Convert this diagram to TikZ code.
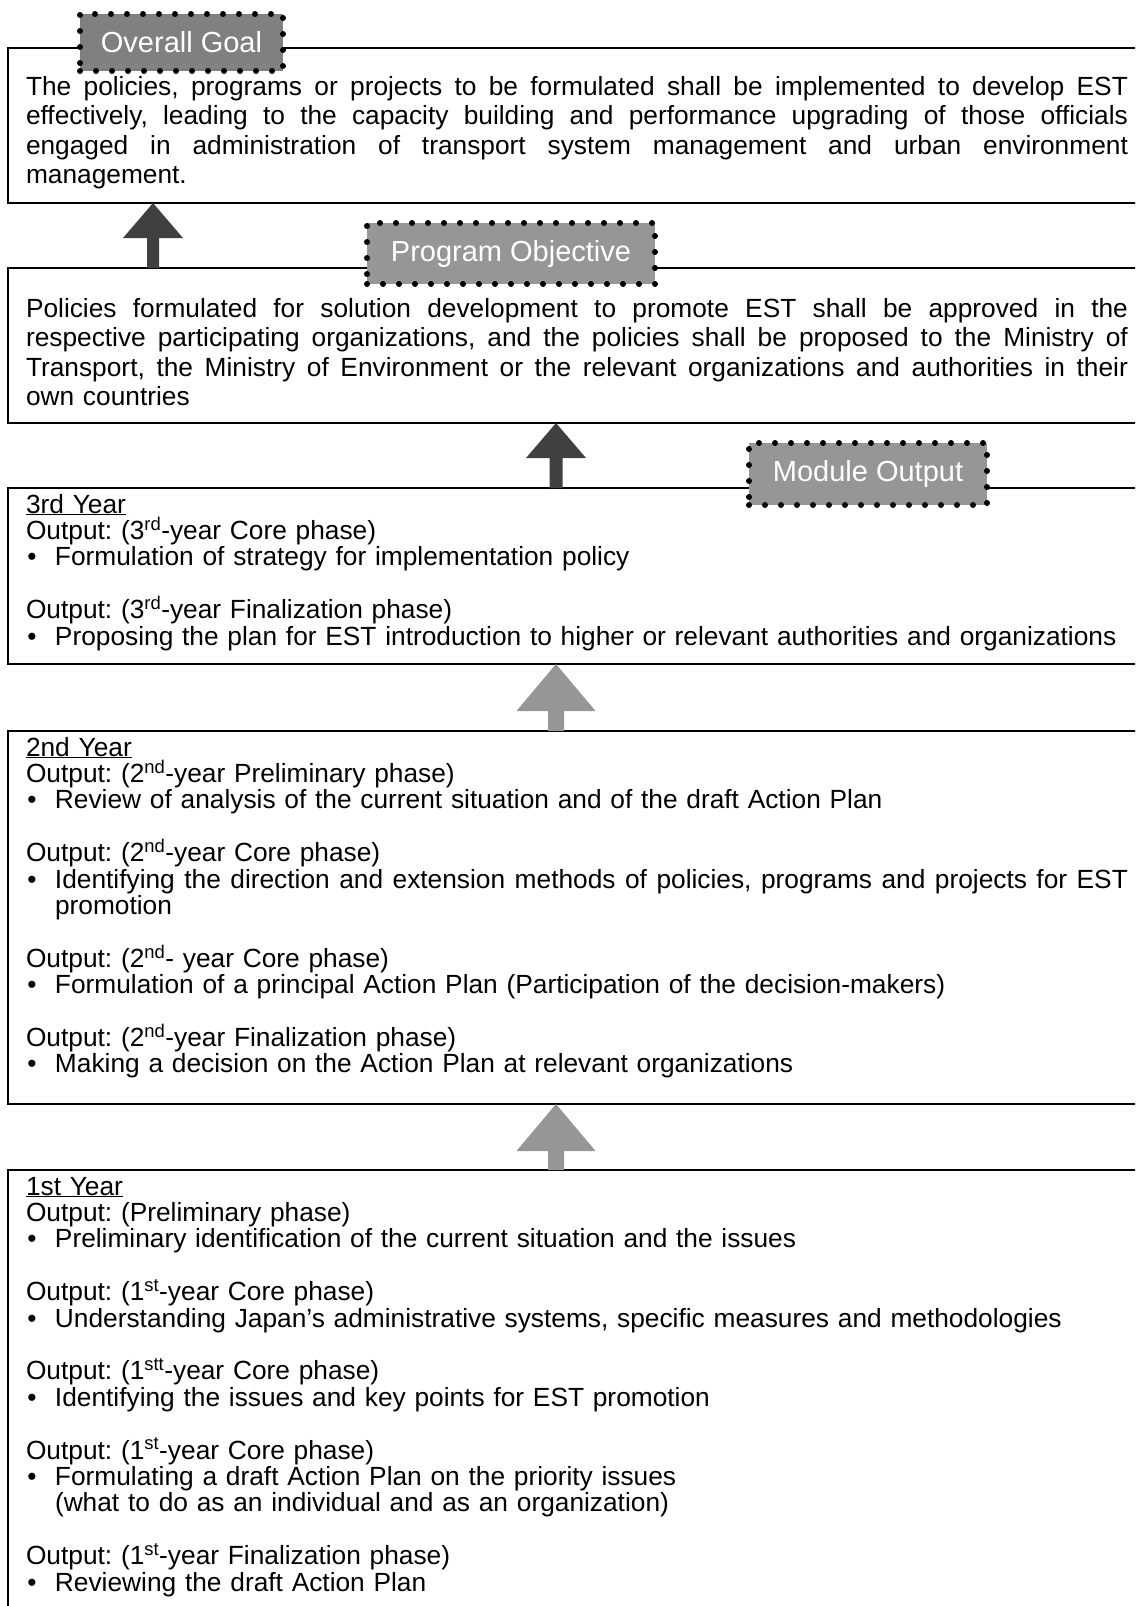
\documentclass[tikz,border=0pt]{standalone}
\usepackage{fontspec}
\setmainfont{Liberation Sans}
\usetikzlibrary{calc}

\definecolor{goalgray}{RGB}{128,128,128}
\definecolor{lblgray}{RGB}{150,150,150}
\definecolor{darkarrow}{RGB}{64,64,64}
\definecolor{lightarrow}{RGB}{150,150,150}

\newcommand{\topfont}{\fontsize{26.3pt}{29.5pt}\selectfont\frenchspacing\parindent=0pt\parskip=0pt\lineskiplimit=-100pt\relax}
\newcommand{\yearfont}{\fontsize{26.3pt}{26.4pt}\selectfont\frenchspacing\parindent=0pt\parskip=0pt\lineskiplimit=-100pt\relax}
\newcommand{\lblfont}{\fontsize{29pt}{34pt}\selectfont}
% a line stretched to a given width: every space may grow equally
\newcommand{\stretchline}[2]{\leavevmode\hbox to #1{\spaceskip=0.278em plus 1fil\relax\xspaceskip=\spaceskip #2}}
\newcommand{\jline}[1]{\stretchline{1102pt}{#1}}
\newcommand{\bul}[1]{\par\hangindent=29pt\hangafter=1\noindent\makebox[29pt][l]{\hspace{1.5pt}\textbullet}#1}
\newcommand{\gapline}{\par\noindent\mbox{}}
\newcommand{\outl}[1]{\par\noindent Output: (#1)}
% #1 colour, #2 tip, #3 base, #4 shaft half width, #5 head half width, #6 head length
\newcommand{\upblockarrow}[6]{%
  \fill[#1] ($(#3)+(-#4,0)$) -- ($(#2)+(-#4,#6)$) -- ($(#2)+(-#5,#6)$) -- (#2)
    -- ($(#2)+(#5,#6)$) -- ($(#2)+(#4,#6)$) -- ($(#3)+(#4,0)$) -- cycle;}

\begin{document}
\begin{tikzpicture}[x=1pt,y=-1pt,
  panel/.style={draw=black, line width=2.2pt, rectangle, anchor=north west,
    inner sep=0pt, outer sep=0pt, minimum width=1130pt},
  paneltext/.style={anchor=base west, inner sep=0pt, outer sep=0pt,
    text width=1102pt, align=left},
  labelbox/.style={rectangle, fill=lblgray, text=white, font=\lblfont,
    inner sep=0pt, draw=black, line width=6pt, dash pattern=on 0pt off 16pt,
    line cap=round}]

\useasboundingbox (0,0) rectangle (1135,1606);
\clip (0,0) rectangle (1135,1606);

% panels
\node[panel, minimum height=155pt] (b1) at (8,48) {};
\node[panel, minimum height=155pt] (b2) at (8,268) {};
\node[panel, minimum height=176pt] (b3) at (8,488) {};
\node[panel, minimum height=373pt] (b4) at (8,731) {};
\node[panel, minimum height=450pt] (b5) at (8,1170) {};

% arrows
\coordinate (ca) at (153,0);
\coordinate (cb) at (556,0);
\upblockarrow{darkarrow}{ca |- b1.south}{ca |- b2.north}{6}{30}{35}
\upblockarrow{darkarrow}{cb |- b2.south}{cb |- b3.north}{6.5}{30}{35}
\upblockarrow{lightarrow}{cb |- b3.south}{cb |- b4.north}{8}{39.5}{47}
\upblockarrow{lightarrow}{cb |- b4.south}{cb |- b5.north}{8}{39.5}{47}

% texts
\node[paneltext, font=\topfont] (t1) at (26,95) {%
\jline{The policies, programs or projects to be formulated shall be implemented to develop EST}\\
\jline{effectively, leading to the capacity building and performance upgrading of those officials}\\
\jline{engaged in administration of transport system management and urban environment}\\
management.};

\node[paneltext, font=\topfont] (t2) at (26,317) {%
\jline{Policies formulated for solution development to promote EST shall be approved in the}\\
\jline{respective participating organizations, and the policies shall be proposed to the Ministry of}\\
\jline{Transport, the Ministry of Environment or the relevant organizations and authorities in their}\\
own countries};

\node[paneltext, font=\yearfont] (t3) at (26,513) {\underline{3rd Year}
\outl{3\textsuperscript{rd}-year Core phase}
\bul{Formulation of strategy for implementation policy}
\gapline
\outl{3\textsuperscript{rd}-year Finalization phase}
\bul{Proposing the plan for EST introduction to higher or relevant authorities and organizations}};

\node[paneltext, font=\yearfont] (t4) at (26,756) {\underline{2nd Year}
\outl{2\textsuperscript{nd}-year Preliminary phase}
\bul{Review of analysis of the current situation and of the draft Action Plan}
\gapline
\outl{2\textsuperscript{nd}-year Core phase}
\bul{\stretchline{1073pt}{Identifying the direction and extension methods of policies, programs and projects for EST}\newline promotion}
\gapline
\outl{2\textsuperscript{nd}- year Core phase}
\bul{Formulation of a principal Action Plan (Participation of the decision-makers)}
\gapline
\outl{2\textsuperscript{nd}-year Finalization phase}
\bul{Making a decision on the Action Plan at relevant organizations}};

\node[paneltext, font=\yearfont] (t5) at (26,1195) {\underline{1st Year}
\outl{Preliminary phase}
\bul{Preliminary identification of the current situation and the issues}
\gapline
\outl{1\textsuperscript{st}-year Core phase}
\bul{Understanding Japan’s administrative systems, specific measures and methodologies}
\gapline
\outl{1\textsuperscript{stt}-year Core phase}
\bul{Identifying the issues and key points for EST promotion}
\gapline
\outl{1\textsuperscript{st}-year Core phase}
\bul{Formulating a draft Action Plan on the priority issues\newline (what to do as an individual and as an organization)}
\gapline
\outl{1\textsuperscript{st}-year Finalization phase}
\bul{Reviewing the draft Action Plan}};

% labels
\node[labelbox, fill=goalgray, minimum width=203pt, minimum height=57pt] (goal) at (181.5,42.5) {Overall Goal};
\node[labelbox, minimum width=288pt, minimum height=61pt] (objective) at (511,253.5) {Program Objective};
\node[labelbox, minimum width=238pt, minimum height=62pt] (module) at (868,474) {Module Output};
\end{tikzpicture}
\end{document}
